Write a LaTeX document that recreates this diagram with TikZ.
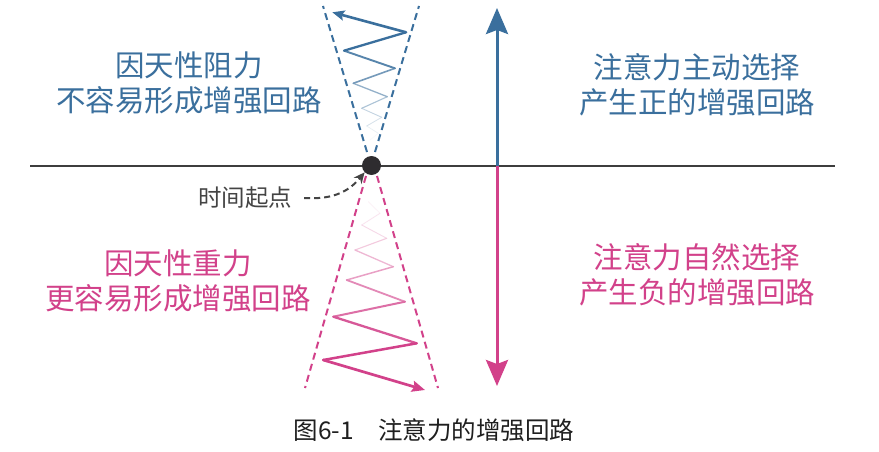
\documentclass[tikz,border=0pt]{standalone}
\usepackage{fontspec}
\newfontfamily\cjk{Noto Sans CJK SC}
\usetikzlibrary{arrows.meta}
\definecolor{cblue}{HTML}{3A6F9D}
\definecolor{cpink}{HTML}{D2418A}
\definecolor{cdark}{HTML}{2E2C2F}
\definecolor{cgray}{HTML}{444444}
\tikzset{
  lbl/.style={align=center,font=\cjk\fontsize{29.5}{35}\selectfont,inner sep=0pt},
  conedash/.style={line width=2pt,dash pattern=on 7pt off 4.5pt},
  zz/.style={line cap=round,line join=round},
  bigarrow/.style={line width=3pt,-{Stealth[length=26pt,width=22pt,inset=4pt]}},
}
\begin{document}
\begin{tikzpicture}[x=1pt,y=-1pt]
\useasboundingbox (0,0) rectangle (879,452);
\fill[white] (0,0) rectangle (879,452);

% horizontal axis
\coordinate (axL) at (30,165.5);
\coordinate (axR) at (835,165.5);
\draw[line width=2pt,color=cgray!90!black] (axL) -- (axR);

% top cone (blue)
\coordinate (tcL0) at (367,152);
\coordinate (tcL1) at (323,6);
\coordinate (tcR0) at (375,152);
\coordinate (tcR1) at (419,6);
\draw[conedash,cblue] (tcL0) -- (tcL1);
\draw[conedash,cblue] (tcR0) -- (tcR1);

% top zigzag
\coordinate (p0) at (370,140);
\coordinate (p1) at (378.3,133.3);
\coordinate (p2) at (366.7,126);
\coordinate (p3) at (381.7,117.3);
\coordinate (p4) at (361.7,108.3);
\coordinate (p5) at (387.3,96.7);
\coordinate (p6) at (353.3,83.3);
\coordinate (p7) at (395,68.3);
\coordinate (p8) at (344,50.7);
\coordinate (p9) at (406,32.3);
\coordinate (p10) at (332.3,12.3);
\draw[zz,cblue!5,line width=0.5pt] (p0) -- (p1);
\draw[zz,cblue!12,line width=0.6pt] (p1) -- (p2);
\draw[zz,cblue!20,line width=0.8pt] (p2) -- (p3);
\draw[zz,cblue!30,line width=0.9pt] (p3) -- (p4);
\draw[zz,cblue!42,line width=1.1pt] (p4) -- (p5);
\draw[zz,cblue!55,line width=1.3pt] (p5) -- (p6);
\draw[zz,cblue!70,line width=1.6pt] (p6) -- (p7);
\draw[zz,cblue!85,line width=1.9pt] (p7) -- (p8);
\draw[zz,cblue,line width=2.3pt] (p8) -- (p9);
\draw[zz,cblue,line width=2.6pt,-{Stealth[length=12pt,width=10pt,inset=2pt]}] (p9) -- (p10);

% bottom cone (pink)
\coordinate (bcL0) at (366,176);
\coordinate (bcL1) at (305,388);
\coordinate (bcR0) at (377,176);
\coordinate (bcR1) at (438,388);
\draw[conedash,cpink] (bcL0) -- (bcL1);
\draw[conedash,cpink] (bcR0) -- (bcR1);

% bottom zigzag
\coordinate (q0) at (368.3,201.7);
\coordinate (q1) at (380,213.3);
\coordinate (q2) at (361.7,225);
\coordinate (q3) at (386.7,238.3);
\coordinate (q4) at (355,250);
\coordinate (q5) at (393.3,266.7);
\coordinate (q6) at (346.7,280);
\coordinate (q7) at (405,301.7);
\coordinate (q8) at (333.3,316.7);
\coordinate (q9) at (416.7,343.3);
\coordinate (q10) at (323.3,360);
\coordinate (q11) at (425,390);
\draw[zz,cpink!8,line width=0.6pt] (q0) -- (q1);
\draw[zz,cpink!14,line width=0.8pt] (q1) -- (q2);
\draw[zz,cpink!20,line width=0.9pt] (q2) -- (q3);
\draw[zz,cpink!28,line width=1.1pt] (q3) -- (q4);
\draw[zz,cpink!38,line width=1.3pt] (q4) -- (q5);
\draw[zz,cpink!50,line width=1.5pt] (q5) -- (q6);
\draw[zz,cpink!62,line width=1.8pt] (q6) -- (q7);
\draw[zz,cpink!76,line width=2.0pt] (q7) -- (q8);
\draw[zz,cpink!88,line width=2.3pt] (q8) -- (q9);
\draw[zz,cpink,line width=2.5pt] (q9) -- (q10);
\draw[zz,cpink,line width=2.7pt,-{Stealth[length=13pt,width=11pt,inset=2pt]}] (q10) -- (q11);

% time origin dot
\node[circle,fill=cdark,minimum size=19pt,inner sep=0pt] (dot) at (371.5,165.5) {};

% right vertical arrows
\coordinate (vmid) at (497,165.5);
\coordinate (vtop) at (497,8);
\coordinate (vbot) at (497,386);
\draw[bigarrow,cblue] (vmid) -- (vtop);
\draw[bigarrow,cpink] (vmid) -- (vbot);

% labels
\node[lbl,text=cblue] (tl) at (189,82.5) {因天性阻力\\不容易形成增强回路};
\node[lbl,text=cblue] (tr) at (697,85) {注意力主动选择\\产生正的增强回路};
\node[lbl,text=cpink] (bl) at (178,280.5) {因天性重力\\更容易形成增强回路};
\node[lbl,text=cpink] (br) at (697,275) {注意力自然选择\\产生负的增强回路};

% time start label
\node[font=\cjk\fontsize{23.5}{28}\selectfont,text=cgray,inner sep=0pt] (start) at (245,198) {时间起点};
\draw[cgray,line width=2pt,dash pattern=on 6pt off 4pt,-{Stealth[length=11pt,width=10pt]}]
  ([xshift=12pt]start.east) .. controls (335,200) and (350,190) .. (dot.south west);

% caption
\node[font=\cjk\fontsize{24.5}{28}\selectfont,text=black!88,inner sep=0pt] (cap) at (434,430) {图6-1　注意力的增强回路};
\end{tikzpicture}
\end{document}
